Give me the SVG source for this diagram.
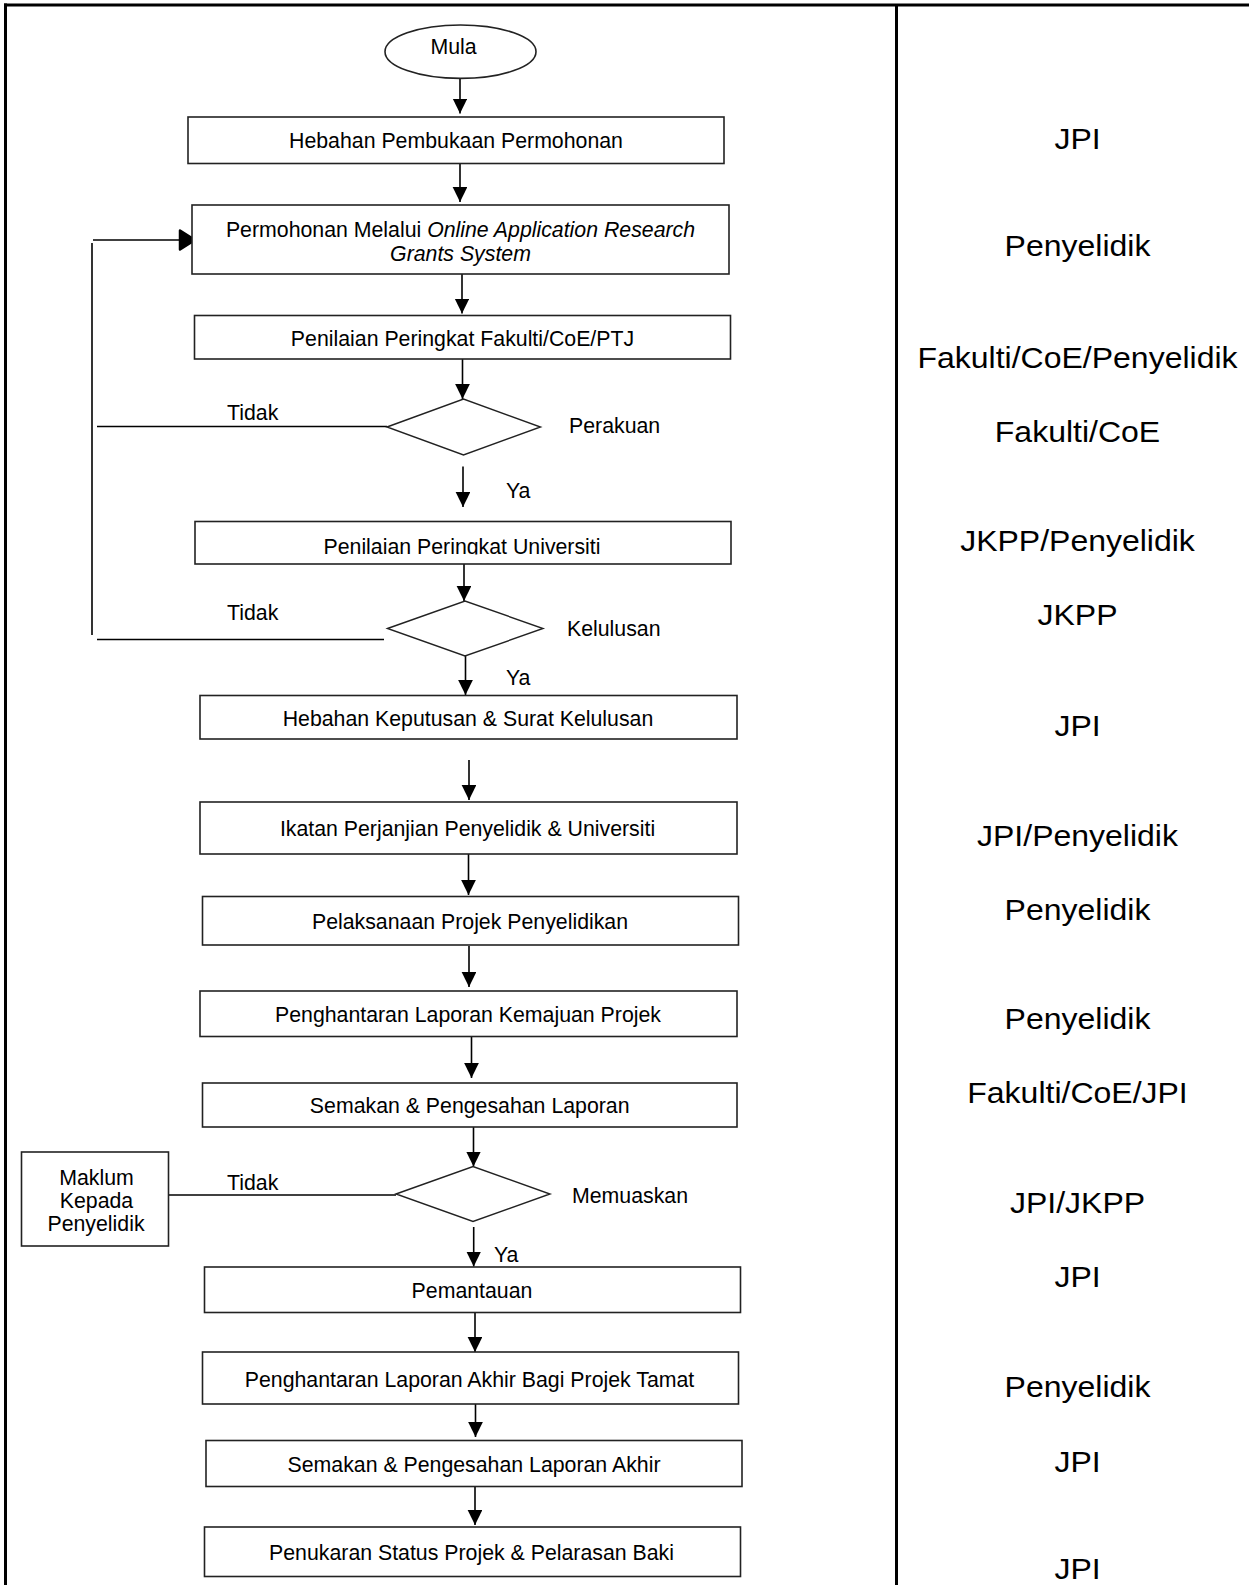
<svg xmlns="http://www.w3.org/2000/svg" width="1249" height="1585" viewBox="0 0 1249 1585">
<style>
.box{fill:#fff;stroke:#222;stroke-width:1.6}
.dia{fill:#fff;stroke:#222;stroke-width:1.4}
.ln{stroke:#000;stroke-width:1.6;fill:none}
.arw{stroke:#000;stroke-width:1.6;fill:none;marker-end:url(#arr)}
.frame{stroke:#000;stroke-width:3;fill:none}
text{font-family:"Liberation Sans",Arial,Helvetica,sans-serif;fill:#000}
.t{font-size:21.3px}
.c{text-anchor:middle}
.r{font-size:29.5px;text-anchor:middle}
.i{font-style:italic}
</style>
<defs>
<marker id="arr" markerUnits="userSpaceOnUse" markerWidth="15" markerHeight="15" refX="15" refY="7.35" orient="auto">
<path d="M0,0 L15,7.35 L0,14.7 Z" fill="#000"/>
</marker>
<marker id="arrB" markerUnits="userSpaceOnUse" markerWidth="20" markerHeight="24" refX="18" refY="11.5" orient="auto">
<path d="M2,2 L17,11.5 L2,21 Z" fill="#000" stroke="#000" stroke-width="2.5" stroke-linejoin="round"/>
</marker>
<clipPath id="clipU"><rect x="195" y="521" width="536" height="33.5"/></clipPath>
</defs>
<rect width="1249" height="1585" fill="#fff"/>
<g id="frame">
<line class="frame" x1="5.5" y1="3.5" x2="5.5" y2="1585"/>
<line class="frame" x1="4" y1="5" x2="1249" y2="5"/>
<line class="frame" x1="896.5" y1="5" x2="896.5" y2="1585"/>
</g>
<g id="connectors">
<line class="arw" x1="460" y1="78.5" x2="460" y2="113.5"/>
<line class="arw" x1="460" y1="163.5" x2="460" y2="202"/>
<line class="arw" x1="462" y1="274" x2="462" y2="313.5"/>
<line class="arw" x1="462.5" y1="359" x2="462.5" y2="399"/>
<line class="arw" x1="463" y1="466.5" x2="463" y2="507"/>
<line class="arw" x1="464" y1="564" x2="464" y2="601"/>
<line class="arw" x1="465.5" y1="656" x2="465.5" y2="695"/>
<line class="arw" x1="469" y1="760" x2="469" y2="800"/>
<line class="arw" x1="468.5" y1="854" x2="468.5" y2="895"/>
<line class="arw" x1="469" y1="946" x2="469" y2="987"/>
<line class="arw" x1="471.5" y1="1037" x2="471.5" y2="1078"/>
<line class="arw" x1="473.5" y1="1127" x2="473.5" y2="1166.5"/>
<line class="arw" x1="473.7" y1="1227" x2="473.7" y2="1266.5"/>
<line class="arw" x1="475" y1="1312.5" x2="475" y2="1352"/>
<line class="arw" x1="475.5" y1="1404" x2="475.5" y2="1437"/>
<line class="arw" x1="475" y1="1487" x2="475" y2="1525"/>
<line class="ln" x1="387" y1="426.5" x2="97" y2="426.5"/>
<line class="ln" x1="384" y1="639.5" x2="97" y2="639.5"/>
<line class="ln" x1="92" y1="243" x2="92" y2="635"/>
<line class="ln" x1="93" y1="240" x2="196" y2="240" style="marker-end:url(#arrB)"/>
<line class="ln" x1="396" y1="1195" x2="168.5" y2="1195"/>
</g>
<g id="n-mula">
<ellipse class="box" cx="460.5" cy="51.7" rx="75.5" ry="26.7"/>
<text class="t c" x="453.5" y="54">Mula</text>
</g>
<g id="n-hebahan">
<rect class="box" x="188" y="117" width="536" height="46.5"/>
<text class="t c" x="456" y="148">Hebahan Pembukaan Permohonan</text>
</g>
<g id="n-permohonan">
<rect class="box" x="192" y="205" width="537" height="69"/>
<text class="t c" x="460.5" y="236.5">Permohonan Melalui <tspan class="i">Online Application Research</tspan></text>
<text class="t c i" x="460.5" y="260.5">Grants System</text>
</g>
<g id="n-fakulti">
<rect class="box" x="194.5" y="315.5" width="536" height="43.5"/>
<text class="t c" x="462.5" y="345.5">Penilaian Peringkat Fakulti/CoE/PTJ</text>
</g>
<g id="n-perakuan">
<polygon class="dia" points="387,427 463.5,399 540.5,427 463.5,455"/>
<text class="t" x="569" y="433">Perakuan</text>
<text class="t" x="227" y="420">Tidak</text>
<text class="t" x="506" y="498">Ya</text>
</g>
<g id="n-universiti">
<rect class="box" x="195" y="521.5" width="536" height="42.5"/>
<text class="t c" x="462" y="553.5" clip-path="url(#clipU)">Penilaian Peringkat Universiti</text>
</g>
<g id="n-kelulusan">
<polygon class="dia" points="387.5,628.5 465,601 543,628.5 465,656"/>
<text class="t" x="567" y="636">Kelulusan</text>
<text class="t" x="227" y="620">Tidak</text>
<text class="t" x="506" y="685">Ya</text>
</g>
<g id="n-keputusan">
<rect class="box" x="200" y="695.5" width="537" height="43.5"/>
<text class="t c" x="468" y="725.5">Hebahan Keputusan &amp; Surat Kelulusan</text>
</g>
<g id="n-ikatan">
<rect class="box" x="200" y="802" width="537" height="52"/>
<text class="t c" x="467.5" y="836">Ikatan Perjanjian Penyelidik &amp; Universiti</text>
</g>
<g id="n-pelaksanaan">
<rect class="box" x="202.5" y="896.5" width="536" height="48.5"/>
<text class="t c" x="470" y="929">Pelaksanaan Projek Penyelidikan</text>
</g>
<g id="n-kemajuan">
<rect class="box" x="200" y="991" width="537" height="45.5"/>
<text class="t c" x="468" y="1021.5">Penghantaran Laporan Kemajuan Projek</text>
</g>
<g id="n-semakan">
<rect class="box" x="202.5" y="1083" width="534.5" height="44"/>
<text class="t c" x="469.7" y="1113">Semakan &amp; Pengesahan Laporan</text>
</g>
<g id="n-memuaskan">
<polygon class="dia" points="396,1194 473,1166.5 550,1194 473,1221.5"/>
<text class="t" x="572" y="1203">Memuaskan</text>
<text class="t" x="227" y="1190">Tidak</text>
<text class="t" x="494" y="1262">Ya</text>
</g>
<g id="n-maklum">
<rect class="box" x="21.5" y="1152" width="147" height="94"/>
<text class="t c" x="96.5" y="1185">Maklum</text>
<text class="t c" x="96.5" y="1207.5">Kepada</text>
<text class="t c" x="96" y="1231">Penyelidik</text>
</g>
<g id="n-pemantauan">
<rect class="box" x="204.5" y="1267" width="536" height="45.5"/>
<text class="t c" x="472" y="1297.5">Pemantauan</text>
</g>
<g id="n-akhir">
<rect class="box" x="202.5" y="1352" width="536" height="52"/>
<text class="t c" x="469.5" y="1386.5">Penghantaran Laporan Akhir Bagi Projek Tamat</text>
</g>
<g id="n-semakan-akhir">
<rect class="box" x="206" y="1440.5" width="536" height="46"/>
<text class="t c" x="474" y="1472">Semakan &amp; Pengesahan Laporan Akhir</text>
</g>
<g id="n-penukaran">
<rect class="box" x="204.5" y="1527" width="536" height="49.5"/>
<text class="t c" x="471.5" y="1559.5">Penukaran Status Projek &amp; Pelarasan Baki</text>
</g>
<g id="responsibility" transform="translate(1077.5 0) scale(1.085 1)">
<text class="r" x="0" y="149.5">JPI</text>
<text class="r" x="0" y="256.5">Penyelidik</text>
<text class="r" x="0" y="368">Fakulti/CoE/Penyelidik</text>
<text class="r" x="0" y="442">Fakulti/CoE</text>
<text class="r" x="0" y="551">JKPP/Penyelidik</text>
<text class="r" x="0" y="625.5">JKPP</text>
<text class="r" x="0" y="736">JPI</text>
<text class="r" x="0" y="846.5">JPI/Penyelidik</text>
<text class="r" x="0" y="919.5">Penyelidik</text>
<text class="r" x="0" y="1029.5">Penyelidik</text>
<text class="r" x="0" y="1103.5">Fakulti/CoE/JPI</text>
<text class="r" x="0" y="1213.5">JPI/JKPP</text>
<text class="r" x="0" y="1287.5">JPI</text>
<text class="r" x="0" y="1397.5">Penyelidik</text>
<text class="r" x="0" y="1472">JPI</text>
<text class="r" x="0" y="1579">JPI</text>
</g>
</svg>
